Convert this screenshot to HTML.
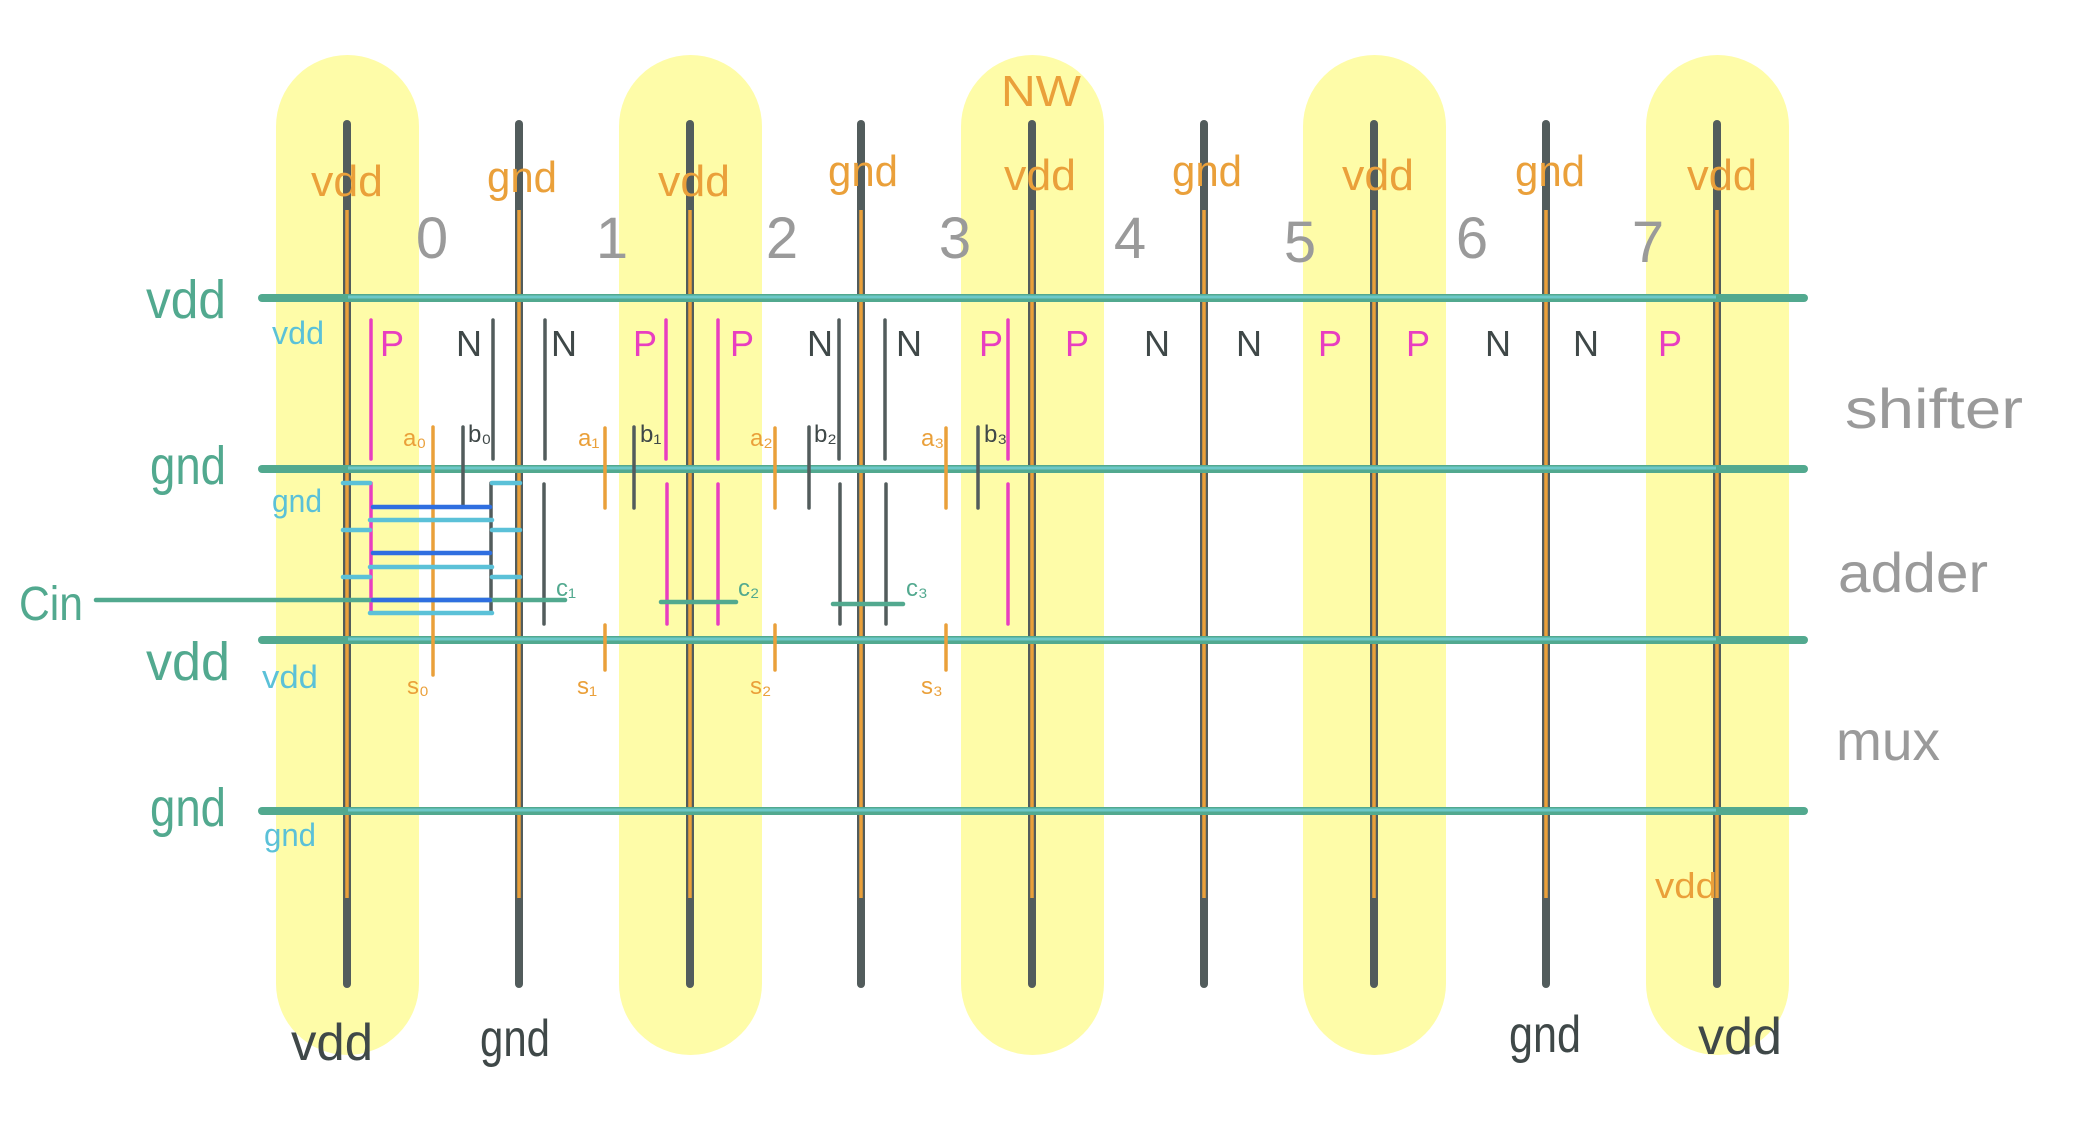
<!DOCTYPE html>
<html><head><meta charset="utf-8"><style>html,body{margin:0;padding:0;background:#fff}svg{display:block}text{font-family:"Liberation Sans",sans-serif}</style></head>
<body>
<svg width="2073" height="1134" viewBox="0 0 2073 1134" xmlns="http://www.w3.org/2000/svg">
<!-- pills -->
<g fill="#fefca8">
<rect x="276" y="55" width="143" height="1000" rx="71.5"/>
<rect x="619" y="55" width="143" height="1000" rx="71.5"/>
<rect x="961" y="55" width="143" height="1000" rx="71.5"/>
<rect x="1303" y="55" width="143" height="1000" rx="71.5"/>
<rect x="1646" y="55" width="143" height="1000" rx="71.5"/>
</g>
<!-- vertical rails -->
<g stroke-linecap="round">
<g stroke="#525c5c" stroke-width="8">
<line x1="347" y1="124" x2="347" y2="984"/><line x1="519" y1="124" x2="519" y2="984"/><line x1="690" y1="124" x2="690" y2="984"/><line x1="861" y1="124" x2="861" y2="984"/><line x1="1032" y1="124" x2="1032" y2="984"/><line x1="1204" y1="124" x2="1204" y2="984"/><line x1="1374" y1="124" x2="1374" y2="984"/><line x1="1546" y1="124" x2="1546" y2="984"/><line x1="1717" y1="124" x2="1717" y2="984"/>
</g>
<g stroke="#eaa03a" stroke-width="3.5" stroke-linecap="butt">
<line x1="347" y1="210" x2="347" y2="898"/><line x1="519" y1="210" x2="519" y2="898"/><line x1="690" y1="210" x2="690" y2="898"/><line x1="861" y1="210" x2="861" y2="898"/><line x1="1032" y1="210" x2="1032" y2="898"/><line x1="1204" y1="210" x2="1204" y2="898"/><line x1="1374" y1="210" x2="1374" y2="898"/><line x1="1546" y1="210" x2="1546" y2="898"/><line x1="1717" y1="210" x2="1717" y2="898"/>
</g>
<!-- horizontal rails -->
<g stroke="#52a98f" stroke-width="8">
<line x1="262" y1="298" x2="1804" y2="298"/><line x1="262" y1="469" x2="1804" y2="469"/><line x1="262" y1="640" x2="1804" y2="640"/><line x1="262" y1="811" x2="1804" y2="811"/>
</g>
<g stroke="#6cc8c8" stroke-width="3" stroke-linecap="butt">
<line x1="348" y1="297" x2="1716" y2="297"/><line x1="348" y1="468" x2="1716" y2="468"/><line x1="348" y1="639" x2="1716" y2="639"/><line x1="348" y1="810" x2="1716" y2="810"/>
</g>
<!-- device lines shifter & adder -->
<g stroke="#e83ec0" stroke-width="3.5">
<line x1="371" y1="320" x2="371" y2="459"/><line x1="666" y1="320" x2="666" y2="459"/><line x1="718" y1="320" x2="718" y2="459"/><line x1="1008" y1="320" x2="1008" y2="459"/>
<line x1="371" y1="483" x2="371" y2="613"/><line x1="667" y1="484" x2="667" y2="624"/><line x1="718" y1="484" x2="718" y2="624"/><line x1="1008" y1="484" x2="1008" y2="624"/>
</g>
<g stroke="#525c5c" stroke-width="3.5">
<line x1="493" y1="320" x2="493" y2="459"/><line x1="545" y1="320" x2="545" y2="459"/><line x1="839" y1="320" x2="839" y2="459"/><line x1="885" y1="320" x2="885" y2="459"/>
<line x1="491" y1="483" x2="491" y2="613"/><line x1="544" y1="484" x2="544" y2="624"/><line x1="840" y1="484" x2="840" y2="624"/><line x1="886" y1="484" x2="886" y2="624"/>
<line x1="463" y1="427" x2="463" y2="507"/><line x1="634" y1="427" x2="634" y2="508"/><line x1="809" y1="427" x2="809" y2="508"/><line x1="978" y1="427" x2="978" y2="508"/>
</g>
<g stroke="#eaa03a" stroke-width="3.5">
<line x1="433" y1="427" x2="433" y2="675"/>
<line x1="605" y1="428" x2="605" y2="508"/><line x1="605" y1="625" x2="605" y2="670"/>
<line x1="775" y1="428" x2="775" y2="508"/><line x1="775" y1="625" x2="775" y2="670"/>
<line x1="946" y1="428" x2="946" y2="508"/><line x1="946" y1="625" x2="946" y2="670"/>
</g>
<!-- ladder -->
<g stroke="#5bc1d8" stroke-width="4.5">
<line x1="343" y1="483" x2="370" y2="483"/><line x1="343" y1="530" x2="370" y2="530"/><line x1="343" y1="577" x2="370" y2="577"/>
<line x1="492" y1="483" x2="520" y2="483"/><line x1="492" y1="530" x2="520" y2="530"/><line x1="492" y1="577" x2="520" y2="577"/>
<line x1="370" y1="520" x2="492" y2="520"/><line x1="370" y1="567" x2="492" y2="567"/><line x1="370" y1="613" x2="492" y2="613"/>
</g>
<!-- Cin and carries -->
<g stroke="#52a98f" stroke-width="4.5">
<line x1="96" y1="600" x2="565" y2="600"/>
<line x1="661" y1="602" x2="736" y2="602"/>
<line x1="833" y1="604" x2="903" y2="604"/>
</g>
<g stroke="#2f6fe0" stroke-width="4.5">
<line x1="373" y1="507" x2="490" y2="507"/><line x1="373" y1="553" x2="490" y2="553"/><line x1="373" y1="600" x2="490" y2="600"/>
</g>
</g>
<!-- labels: top rail labels -->
<g fill="#eaa03a" font-size="44">
<text x="347" y="196" text-anchor="middle" textLength="72" lengthAdjust="spacingAndGlyphs">vdd</text>
<text x="522" y="192" text-anchor="middle" textLength="70" lengthAdjust="spacingAndGlyphs">gnd</text>
<text x="694" y="196" text-anchor="middle" textLength="72" lengthAdjust="spacingAndGlyphs">vdd</text>
<text x="863" y="186" text-anchor="middle" textLength="70" lengthAdjust="spacingAndGlyphs">gnd</text>
<text x="1040" y="190" text-anchor="middle" textLength="72" lengthAdjust="spacingAndGlyphs">vdd</text>
<text x="1207" y="186" text-anchor="middle" textLength="70" lengthAdjust="spacingAndGlyphs">gnd</text>
<text x="1378" y="190" text-anchor="middle" textLength="72" lengthAdjust="spacingAndGlyphs">vdd</text>
<text x="1550" y="186" text-anchor="middle" textLength="70" lengthAdjust="spacingAndGlyphs">gnd</text>
<text x="1722" y="190" text-anchor="middle" textLength="70" lengthAdjust="spacingAndGlyphs">vdd</text>
<text x="1041" y="106" text-anchor="middle" textLength="80" lengthAdjust="spacingAndGlyphs">NW</text>
<text x="1686" y="898" text-anchor="middle" font-size="36" textLength="62" lengthAdjust="spacingAndGlyphs">vdd</text>
</g>
<!-- digits -->
<g fill="#9a9a9a" font-size="58" text-anchor="middle">
<text x="432" y="258">0</text><text x="612" y="258">1</text><text x="782" y="258">2</text><text x="955" y="258">3</text>
<text x="1130" y="258">4</text><text x="1300" y="262">5</text><text x="1472" y="258">6</text><text x="1648" y="262">7</text>
</g>
<!-- P / N -->
<g font-size="36" text-anchor="middle">
<g fill="#e83ec0"><text x="392" y="356">P</text><text x="645" y="356">P</text><text x="742" y="356">P</text><text x="991" y="356">P</text><text x="1077" y="356">P</text><text x="1330" y="356">P</text><text x="1418" y="356">P</text><text x="1670" y="356">P</text></g>
<g fill="#3f4848"><text x="469" y="356">N</text><text x="564" y="356">N</text><text x="820" y="356">N</text><text x="909" y="356">N</text><text x="1157" y="356">N</text><text x="1249" y="356">N</text><text x="1498" y="356">N</text><text x="1586" y="356">N</text></g>
</g>
<!-- a/b/s/c labels -->
<g font-size="24">
<g fill="#eaa03a"><text x="403" y="446">a₀</text><text x="578" y="446">a₁</text><text x="750" y="446">a₂</text><text x="921" y="446">a₃</text>
<text x="407" y="694">s₀</text><text x="577" y="694">s₁</text><text x="750" y="694">s₂</text><text x="921" y="694">s₃</text></g>
<g fill="#3f4848"><text x="468" y="442">b₀</text><text x="640" y="442">b₁</text><text x="814" y="442">b₂</text><text x="984" y="442">b₃</text></g>
<g fill="#52a98f"><text x="556" y="596">c₁</text><text x="738" y="596">c₂</text><text x="906" y="596">c₃</text></g>
</g>
<!-- left labels -->
<g fill="#52a98f" font-size="54">
<text x="146" y="318" textLength="80" lengthAdjust="spacingAndGlyphs">vdd</text>
<text x="150" y="484" textLength="76" lengthAdjust="spacingAndGlyphs">gnd</text>
<text x="146" y="680" textLength="84" lengthAdjust="spacingAndGlyphs">vdd</text>
<text x="150" y="826" textLength="76" lengthAdjust="spacingAndGlyphs">gnd</text>
<text x="19" y="620" font-size="48" textLength="64" lengthAdjust="spacingAndGlyphs">Cin</text>
</g>
<g fill="#5bc1d8" font-size="32">
<text x="272" y="344" textLength="52" lengthAdjust="spacingAndGlyphs">vdd</text>
<text x="272" y="512" textLength="50" lengthAdjust="spacingAndGlyphs">gnd</text>
<text x="262" y="688" textLength="56" lengthAdjust="spacingAndGlyphs">vdd</text>
<text x="264" y="846" textLength="52" lengthAdjust="spacingAndGlyphs">gnd</text>
</g>
<!-- right labels -->
<g fill="#9a9a9a" font-size="56">
<text x="1845" y="428" textLength="178" lengthAdjust="spacingAndGlyphs">shifter</text>
<text x="1838" y="592" textLength="150" lengthAdjust="spacingAndGlyphs">adder</text>
<text x="1836" y="760" textLength="104" lengthAdjust="spacingAndGlyphs">mux</text>
</g>
<!-- bottom labels -->
<g fill="#3f4848" font-size="52" text-anchor="middle">
<text x="332" y="1060" textLength="82" lengthAdjust="spacingAndGlyphs">vdd</text>
<text x="515" y="1056" textLength="70" lengthAdjust="spacingAndGlyphs">gnd</text>
<text x="1545" y="1052" textLength="72" lengthAdjust="spacingAndGlyphs">gnd</text>
<text x="1740" y="1054" textLength="84" lengthAdjust="spacingAndGlyphs">vdd</text>
</g>
</svg>
</body></html>
